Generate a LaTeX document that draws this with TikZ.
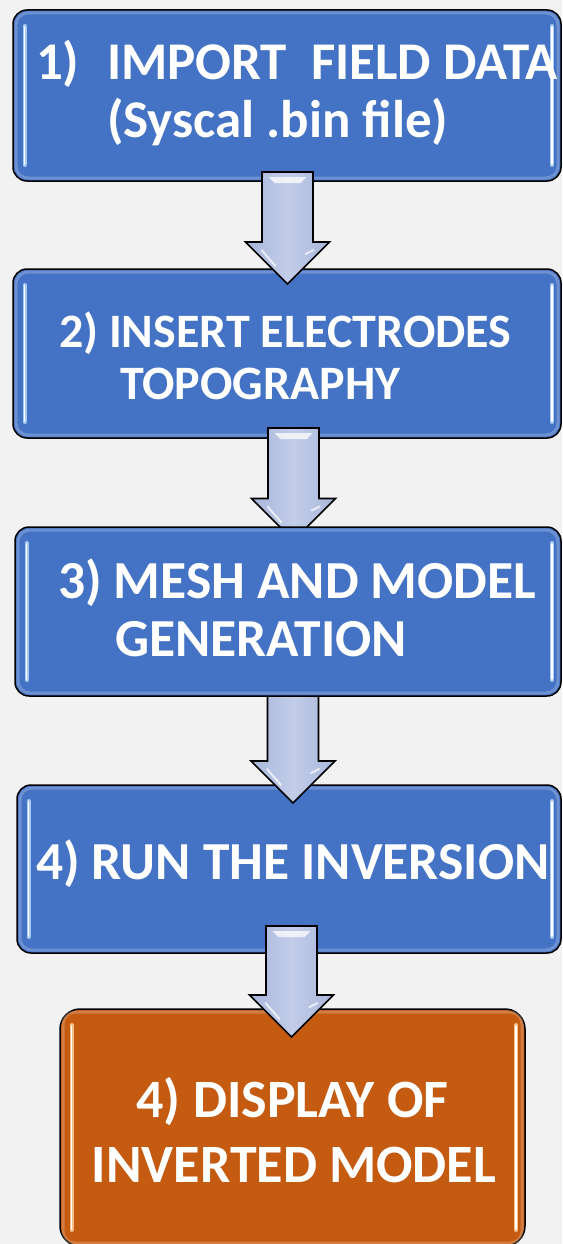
\documentclass[tikz,border=0pt]{standalone}
\usepackage{fontspec}
\setmainfont{Carlito}
\usetikzlibrary{calc}
\definecolor{bg}{HTML}{F2F2F2}
\definecolor{boxblue}{HTML}{4472C4}
\definecolor{boxorange}{HTML}{C55A11}
\definecolor{barblue}{HTML}{A9CBF2}
\definecolor{barorange}{HTML}{F7C08A}
\definecolor{arrowedge}{HTML}{A7B6DA}
\definecolor{arrowmid}{HTML}{C3CDE9}
\tikzset{
  stepbox/.style={draw=black, line width=1.5, rounded corners=14, inner sep=0, outer sep=0},
  bluebox/.style={stepbox, fill=boxblue},
  orangebox/.style={stepbox, fill=boxorange, rounded corners=20},
  fatarrowstyle/.style={draw=black, line width=1.6, line join=miter, left color=arrowedge, right color=arrowedge, middle color=arrowmid},
  steptext/.style={text=white, inner sep=0, outer sep=0, font=\bfseries\fontsize{#1}{#1}\selectfont},
}
\newcommand\boxglow[2]{%
  \draw[white, opacity=0.22, line width=3, rounded corners=12] ($(#1.north west)+(3,3)$) rectangle ($(#1.south east)+(-3,-3)$);
  \draw[#2, line width=4, line cap=round] ($(#1.north west)+(11.5,16)$) -- ($(#1.south west)+(11.5,-16)$);
  \draw[white, line width=1.3, line cap=round] ($(#1.north west)+(11.5,17)$) -- ($(#1.south west)+(11.5,-17)$);
  \draw[#2, line width=4, line cap=round] ($(#1.north east)+(-9,16)$) -- ($(#1.south east)+(-9,-16)$);
  \draw[white, line width=1.3, line cap=round] ($(#1.north east)+(-9,17)$) -- ($(#1.south east)+(-9,-17)$);
}
\newcommand\fatarrow[2]{%
  \path[fatarrowstyle] ($(#1)+(-25.5,0)$) -- ($(#1)+(25.5,0)$) -- ($(#2)+(25.5,-42)$) -- ($(#2)+(42,-42)$) -- (#2) -- ($(#2)+(-42,-42)$) -- ($(#2)+(-25.5,-42)$) -- cycle;
  \fill[white, opacity=0.75] ($(#1)+(-19,5)$) -- ($(#1)+(19,5)$) -- ($(#1)+(13,11)$) -- ($(#1)+(-13,11)$) -- cycle;
  \draw[white, opacity=0.7, line width=2, line cap=round] ($(#2)+(-26,-34)$) -- ($(#2)+(-12,-18)$);
  \draw[white, opacity=0.7, line width=2, line cap=round] ($(#2)+(26,-34)$) -- ($(#2)+(18,-30)$);
}
\begin{document}
\begin{tikzpicture}[x=1pt, y=-1pt]
\useasboundingbox (0,0) rectangle (562,1244);
\fill[bg] (0,0) rectangle (562,1244);

% boxes (box3 is drawn last, above the arrows)
\node[bluebox, minimum width=548, minimum height=171] (box1) at (287,95.5) {};
\boxglow{box1}{barblue}
\node[bluebox, minimum width=548, minimum height=169] (box2) at (287,353.5) {};
\boxglow{box2}{barblue}
\node[bluebox, minimum width=544, minimum height=168] (box4) at (289,869) {};
\boxglow{box4}{barblue}
\node[orangebox, minimum width=465, minimum height=237] (box5) at (292.5,1127.5) {};
\boxglow{box5}{barorange}

% arrow end points
\coordinate (a1s) at (287.5,172);  \coordinate (a1e) at (287.5,284);
\coordinate (a2s) at (293.5,428);  \coordinate (a2e) at (293.5,540.5);
\coordinate (a3s) at (293,686);    \coordinate (a3e) at (293,803);
\coordinate (a4s) at (291.5,926);  \coordinate (a4e) at (291.5,1037);

\fatarrow{a1s}{a1e}
\fatarrow{a2s}{a2e}
\fatarrow{a3s}{a3e}
\fatarrow{a4s}{a4e}

\node[bluebox, minimum width=546, minimum height=169] (box3) at (288,611.5) {};
\boxglow{box3}{barblue}

% texts
\node[steptext=53, anchor=base west] (t1a) at (36,80) {\makebox[71pt][l]{1)}IMPORT\ \ FIELD DATA};
\node[steptext=53, anchor=base west] (t1b) at (107,137) {(Syscal .bin file)};
\node[steptext=48, anchor=base west] (t2a) at (59,347) {2) INSERT ELECTRODES};
\node[steptext=48, anchor=base west] (t2b) at (120,399) {TOPOGRAPHY};
\node[steptext=53.5, anchor=base west] (t3a) at (58,598) {3) MESH AND MODEL};
\node[steptext=53.5, anchor=base west] (t3b) at (115,656) {GENERATION};
\node[steptext=53.5, anchor=base west] (t4a) at (36,879) {4) RUN THE INVERSION};
\node[steptext=54, anchor=base] (t5a) at (292.5,1117) {4) DISPLAY OF};
\node[steptext=54, anchor=base] (t5b) at (294,1182) {INVERTED MODEL};
\end{tikzpicture}
\end{document}
